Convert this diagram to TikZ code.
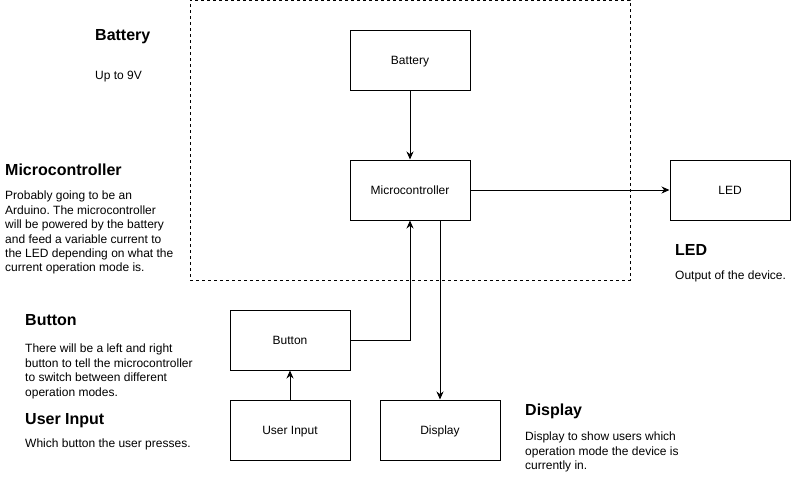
\documentclass[tikz,border=0pt]{standalone}
\usepackage{fontspec}
\setmainfont{Liberation Sans}
\usetikzlibrary{arrows.meta}
\frenchspacing

\begin{document}
\begin{tikzpicture}[
    x=1pt, y=-1pt,
    block/.style={rectangle, draw, line width=1pt, minimum width=120pt, minimum height=60pt, text height=10pt, text depth=1pt, font=\fontsize{12}{14.4}\selectfont},
    heading/.style={anchor=north west, inner sep=0pt, font=\fontsize{16}{19}\selectfont\bfseries},
    blurb/.style={anchor=north west, inner sep=0pt, align=left, font=\fontsize{12}{14.4}\selectfont},
    link/.style={line width=1pt, -{Stealth[length=8pt, width=7pt]}}
]

    \useasboundingbox (0,0) rectangle (801,491);

    % dashed frame round the main unit
    \node[draw, dashed, dash pattern=on 3pt off 3pt, line width=0.8pt, minimum width=440pt, minimum height=280pt, inner sep=0pt] (frame) at (410,140) {};

    % Blocks
    \foreach \name/\x/\y/\txt in {bat/410/60/Battery, mcu/410/190/Microcontroller, led/730/190/LED,
                                  btn/290/340/Button, usr/290/430/User Input, disp/440/430/Display}
        \node[block] (\name) at (\x,\y) {\txt};

    % Descriptions
    \node[heading] (hbat) at (95,29) {Battery};
    \node[blurb] (tbat) at (95,71) {Up to 9V};

    \node[heading] (hmcu) at (5,164) {Microcontroller};
    \node[blurb] (tmcu) at (5,191) {Probably going to be an\\Arduino. The microcontroller\\will be powered by the battery\\and feed a variable current to\\the LED depending on what the\\current operation mode is.};

    \node[heading] (hled) at (675,244) {LED};
    \node[blurb] (tled) at (675,271) {Output of the device.};

    \node[heading] (hbtn) at (25,314) {Button};
    \node[blurb] (tbtn) at (25,344) {There will be a left and right\\button to tell the microcontroller\\to switch between different\\operation modes.};

    \node[heading] (husr) at (25,413) {User Input};
    \node[blurb] (tusr) at (25,439) {Which button the user presses.};

    \node[heading] (hdisp) at (525,404) {Display};
    \node[blurb] (tdisp) at (525,432) {Display to show users which\\operation mode the device is\\currently in.};

    % Connections
    \draw[link] (bat) -- (mcu);
    \draw[link] (mcu) -- (led);
    \draw[link] (btn.east) -| (mcu.south);
    \draw[link] (mcu.south -| disp.north) -- (disp.north);
    \draw[link] (usr) -- (btn);

\end{tikzpicture}
\end{document}
